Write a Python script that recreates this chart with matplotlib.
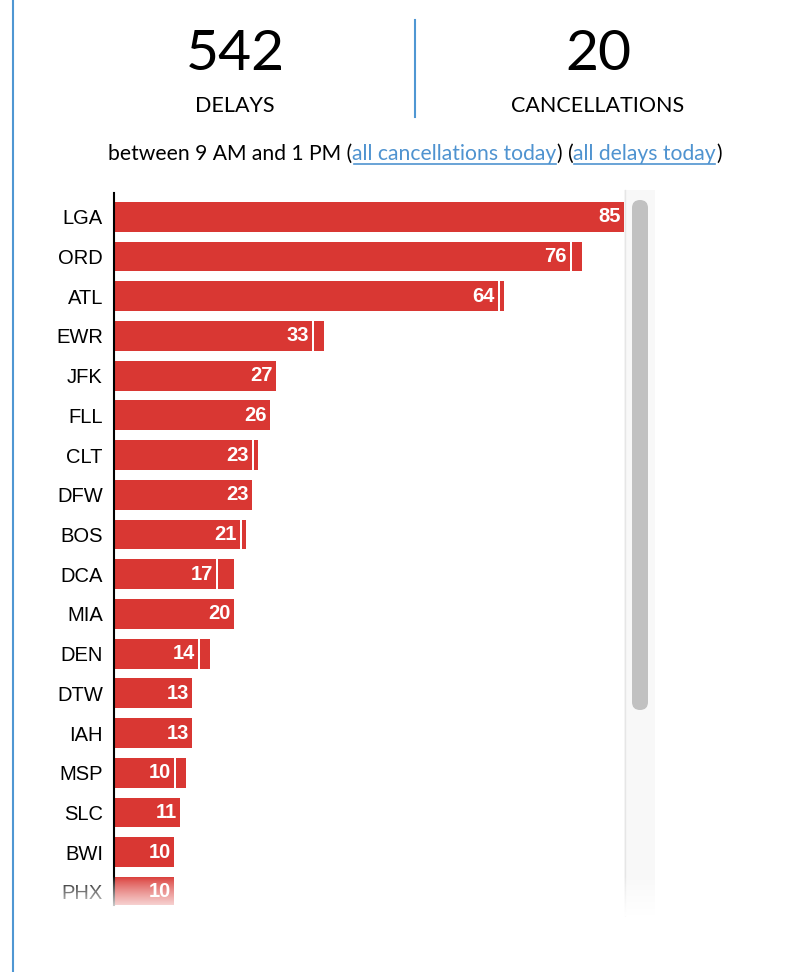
import numpy as np
import matplotlib.pyplot as plt
from matplotlib.patches import Rectangle, FancyBboxPatch

airports = ['LGA', 'ORD', 'ATL', 'EWR', 'JFK', 'FLL', 'CLT', 'DFW', 'BOS',
            'DCA', 'MIA', 'DEN', 'DTW', 'IAH', 'MSP', 'SLC', 'BWI', 'PHX']
delays = [85, 76, 64, 33, 27, 26, 23, 23, 21, 17, 20, 14, 13, 13, 10, 11, 10, 10]
cancels = [0, 2, 1, 2, 0, 0, 1, 0, 1, 3, 0, 2, 0, 0, 2, 0, 0, 0]
total_delays = 542
total_cancels = 20
subtitle = [("between 9 AM and 1 PM (", False), ("all cancellations today", True),
            (") (", False), ("all delays today", True), (")", False)]

W, H = 806, 972
RED = '#d93733'
BLUE = '#4f97d3'
LINK = '#4f93d0'

fig = plt.figure(figsize=(W / 100, H / 100), dpi=100)

# background layer in pixel coordinates
bg = fig.add_axes([0, 0, 1, 1], zorder=0)
bg.set_xlim(0, W)
bg.set_ylim(H, 0)
bg.axis('off')

bg.plot([12.5, 12.5], [0, H], color=BLUE, lw=1.5)
bg.plot([415, 415], [20, 117], color=BLUE, lw=1.5)

head = dict(family='Lato', ha='center', color='black')
bg.text(235, 55, str(total_delays), fontsize=41, va='center', **head)
bg.text(598, 55, str(total_cancels), fontsize=41, va='center', **head)
bg.text(235, 106, 'DELAYS', fontsize=15.5, va='center', **head)
bg.text(598, 106, 'CANCELLATIONS', fontsize=15.5, va='center', **head)

# subtitle with link-style pieces
pieces = []
for s, link in subtitle:
    t = bg.text(0, 160, s, family='Lato', fontsize=15.2, va='baseline', ha='left',
                color=LINK if link else 'black')
    pieces.append((t, link))
fig.canvas.draw()
r = fig.canvas.get_renderer()
widths = [t.get_window_extent(r).width for t, _ in pieces]
x = 415 - sum(widths) / 2
for (t, link), w in zip(pieces, widths):
    t.set_x(x)
    if link:
        bg.plot([x + 1, x + w - 1], [164, 164], color=LINK, lw=1.2)
    x += w

# scrollbar
bg.add_patch(Rectangle((624, 190), 31, 725, color='#f8f8f8', lw=0))
bg.plot([624.5, 624.5], [190, 915], color='#e6e6e6', lw=1)
bg.add_patch(FancyBboxPatch((632, 200), 16, 510, boxstyle='round,pad=0,rounding_size=8',
                            color='#c1c1c1', lw=0))

# bar chart
ax = fig.add_axes([114 / W, 1 - 905 / H, 512 / W, 712 / H], zorder=1)
ax.patch.set_alpha(0)
ypos = np.arange(len(airports))
ax.barh(ypos, delays, height=0.75, color=RED)
for yy, d, c in zip(ypos, delays, cancels):
    if c > 0:
        ax.barh(yy, c - 0.33, left=d + 0.33, height=0.75, color=RED)
    ax.annotate(str(d), (d, yy), xytext=(-3, 0), textcoords='offset pixels',
                ha='right', va='center', color='white', fontsize=14.5, weight='bold',
                family='Liberation Sans')
ax.set_xlim(0, 512 / 6)
ax.set_ylim(17.33, -0.6)
ax.set_yticks(ypos)
ax.set_yticklabels(airports, family='Liberation Sans', fontsize=14.5)
ax.tick_params(axis='y', length=0, pad=8)
ax.set_xticks([])
for s in ['top', 'right', 'bottom']:
    ax.spines[s].set_visible(False)
ax.spines['left'].set_linewidth(1.5)
ax.spines['left'].set_color('black')

# fade-out at the bottom of the scroll area
top = fig.add_axes([0, 0, 1, 1], zorder=2)
grad = np.ones((64, 1, 4))
grad[:, 0, 3] = np.linspace(0, 1, 64) ** 0.8
top.imshow(grad, extent=(40, 660, 916, 876), aspect='auto', interpolation='bilinear')
top.set_xlim(0, W)
top.set_ylim(H, 0)
top.axis('off')

fig.savefig('out.png', dpi=100)
